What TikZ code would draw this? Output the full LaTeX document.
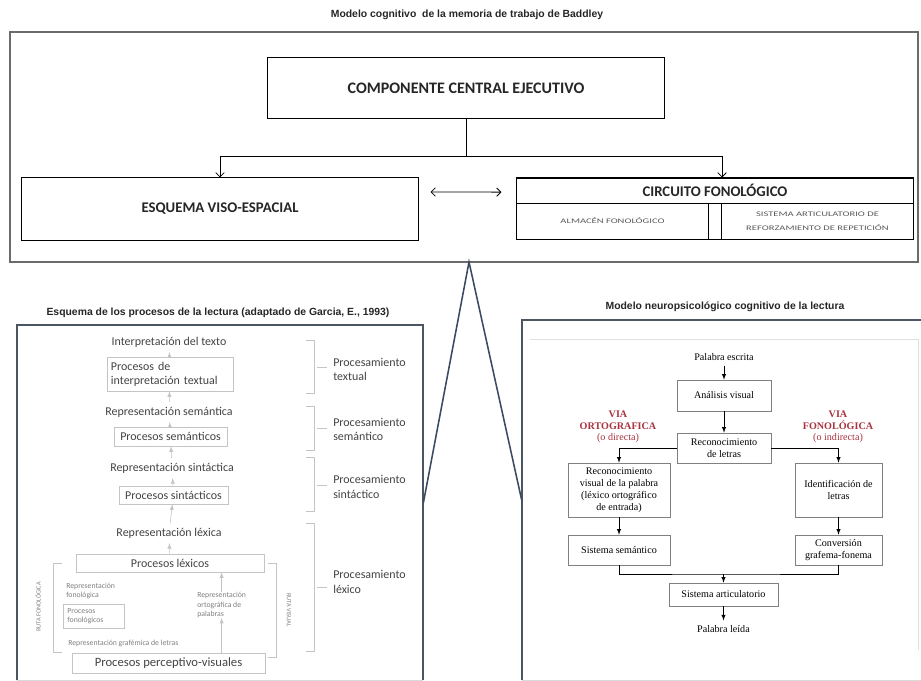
\documentclass[tikz,border=0pt]{standalone}
\usepackage{fontspec}
\setmainfont{Carlito}
\newfontfamily\arialf{Liberation Sans}
\newfontfamily\timesf{Liberation Serif}
\usetikzlibrary{arrows,arrows.meta}
\definecolor{framegray}{HTML}{6B6B6B}
\definecolor{panelblue}{HTML}{4A5662}
\definecolor{vlineblue}{HTML}{3B4A63}
\definecolor{boxgray}{HTML}{C4C4C4}
\definecolor{textgray}{HTML}{444444}
\definecolor{capsgray}{HTML}{5A5A5A}
\definecolor{viared}{HTML}{A8323E}
\newcommand{\widecaps}[1]{\scalebox{1.5}[1]{#1}}
\tikzstyle{box}=[draw=black,line width=0.7pt,inner sep=0pt,text=black!85]
\tikzstyle{lbox}=[draw=boxgray,thin,inner sep=2pt,text=textgray,font=\fontsize{8.5}{10}\selectfont]
\tikzstyle{rbox}=[draw=gray,thin,inner sep=1pt,align=center,font=\timesf\fontsize{7.2}{8.6}\selectfont]
\tikzstyle{arr}=[-{Straight Barb[length=3pt,width=6pt]},draw=black,line width=0.6pt]
\tikzstyle{dbl}=[{Straight Barb[length=3pt,width=6pt]}-{Straight Barb[length=3pt,width=6pt]},draw=black,line width=0.6pt]
\tikzstyle{larr}=[->,>=latex,draw=boxgray,thin]
\tikzstyle{rarr}=[->,>=latex,draw=black,thin]
\tikzstyle{brk}=[draw=boxgray,thin]
\tikzstyle{panel}=[draw=panelblue,line width=1.6pt]
\tikzstyle{vline}=[draw=vlineblue,line width=1.1pt]
\tikzstyle{ttl}=[text=black!85,font=\arialf\bfseries\fontsize{7.4}{9}\selectfont]
\tikzstyle{ltxt}=[text=textgray,font=\fontsize{8.5}{10}\selectfont]
\tikzstyle{stxt}=[text=gray,font=\fontsize{5.5}{6.6}\selectfont,align=left,inner sep=0pt]
\tikzstyle{ptxt}=[text=textgray,font=\fontsize{8.5}{10.5}\selectfont,align=left,anchor=west,inner sep=0pt]
\tikzstyle{rtxt}=[font=\timesf\fontsize{7.2}{8.6}\selectfont]
\tikzstyle{via}=[text=viared,align=center,font=\timesf\fontsize{7.2}{8.2}\selectfont]
\begin{document}
\begin{tikzpicture}[x=0.025cm,y=-0.025cm]
\path[use as bounding box,fill=white] (0,0) rectangle (921,681);
\begin{scope}
  %Nodes
  \node[ttl] (t1) at (467,15) {Modelo cognitivo\ \ de la memoria de trabajo de Baddley};
  \node[draw=framegray,line width=1.2pt,minimum width=22.7cm,minimum height=5.75cm] (wm) at (464,147) {};
  \node[box,minimum width=9.9cm,minimum height=1.5cm,font=\bfseries\fontsize{11.4}{13}\selectfont] (cce) at (466,88) {COMPONENTE CENTRAL EJECUTIVO};
  \node[box,minimum width=9.9cm,minimum height=1.55cm,font=\bfseries\fontsize{10.5}{12}\selectfont] (esq) at (220,209) {ESQUEMA VISO-ESPACIAL};
  \node[box,minimum width=9.9cm,minimum height=1.525cm] (circ) at (715,208.5) {};
  \node[box,minimum width=9.9cm,minimum height=0.625cm,font=\bfseries\fontsize{10.5}{12}\selectfont] (circt) at (715,190.5) {CIRCUITO FONOLÓGICO};
  \node[box,minimum width=4.775cm,minimum height=0.9cm,text=capsgray,font=\fontsize{5}{10}\selectfont] (alm) at (612.5,221) {\widecaps{ALMACÉN FONOLÓGICO}};
  \node[box,minimum width=4.775cm,minimum height=0.9cm,align=center,text=capsgray,font=\fontsize{5}{10}\selectfont] (sis) at (817.5,221) {\widecaps{SISTEMA ARTICULATORIO DE}\\\widecaps{REFORZAMIENTO DE REPETICIÓN}};
  \coordinate (split) at (cce.south |- 0,156);
  %Lines
  \draw[box] (cce.south) -- (split);
  \draw[arr] (split) -| (esq.north);
  \draw[arr] (split) -| ([xshift=0.175cm]circ.north);
  \draw[dbl] ([shift={(0.3cm,0.425cm)}]esq.east) -- ([shift={(-0.375cm,0.41cm)}]circ.west);
\end{scope}
\begin{scope}
  %Panels
  \node[minimum width=10.15cm,minimum height=8.875cm] (lp) at (220,502.5) {};
  \node[minimum width=10.075cm,minimum height=9cm] (rp) at (723.5,500) {};
  \draw[panel] (lp.south west) -- (lp.north west) -- (lp.north east) -- (lp.south east);
  \draw[draw=gray!30,thin] (lp.south west) -- (lp.south east);
  \draw[panel] (rp.south west) -- (rp.north west) -- (rp.north east);
  \draw[draw=gray!30,thin] (rp.south west) -- (rp.south east);
  \draw[draw=gray!25,thin] (530,339) -- (918,339) -- (918,650);
  \node[ttl] (t2) at (218,313) {Esquema de los procesos de la lectura (adaptado de Garcia, E., 1993)};
  \node[ttl] (t3) at (725,307) {Modelo neuropsicológico cognitivo de la lectura};
  \coordinate (apex) at (469,262);
  \draw[vline] (lp.east |- 0,503) -- (apex) -- (rp.west |- 0,500);
\end{scope}
\begin{scope}
  %Nodes
  \node[ltxt] (it) at (169,342) {Interpretación del texto};
  \node[lbox,minimum width=3.15cm,minimum height=0.85cm,text width=2.95cm,align=left] (pit) at (170,374) {Procesos de\\interpretación textual};
  \node[ltxt] (rsem) at (169,412) {Representación semántica};
  \node[lbox,minimum width=2.825cm,minimum height=0.475cm] (psem) at (170.5,436.5) {Procesos semánticos};
  \node[ltxt] (rsin) at (172,468) {Representación sintáctica};
  \node[lbox,minimum width=2.725cm,minimum height=0.45cm] (psin) at (173.5,495) {Procesos sintácticos};
  \node[ltxt] (rlex) at (169,533) {Representación léxica};
  \node[lbox,minimum width=4.7cm,minimum height=0.45cm] (plex) at (170,563) {Procesos léxicos};
  \node[stxt,anchor=west] (rfon) at (66,591) {Representación\\fonológica};
  \node[lbox,minimum width=1.525cm,minimum height=0.6cm,text width=1.3cm,align=left,text=gray,font=\fontsize{5.5}{6.6}\selectfont] (pfon) at (93.5,616) {Procesos\\fonológicos};
  \node[stxt,anchor=west] (rgraf) at (68,643) {Representación grafémica de letras};
  \node[stxt,anchor=west] (rort) at (197,605) {Representación\\ortográfica de\\palabras};
  \node[lbox,minimum width=4.825cm,minimum height=0.5cm,font=\fontsize{9}{11}\selectfont] (ppv) at (168.5,663) {Procesos perceptivo-visuales};
  \node[stxt,rotate=90,font=\fontsize{4.5}{5}\selectfont] (rfl) at (38,607) {RUTA FONOLÓGICA};
  \node[stxt,rotate=-90,font=\fontsize{4.5}{5}\selectfont] (rvl) at (289,610) {RUTA VISUAL};
  \node[ptxt] (ptex) at (333,369.5) {Procesamiento\\textual};
  \node[ptxt] (psemt) at (333,429.5) {Procesamiento\\semántico};
  \node[ptxt] (psint) at (333,487) {Procesamiento\\sintáctico};
  \node[ptxt] (plext) at (333,582) {Procesamiento\\léxico};
  %Lines
  \draw[larr] (pit) -- (it);
  \draw[larr] (rsem) -- (pit);
  \draw[larr] (psem) -- (rsem);
  \draw[larr] (rsin) -- (psem);
  \draw[larr] (psin) -- (rsin);
  \draw[larr] (rlex) -- (psin);
  \draw[larr] (plex) -- (rlex);
  \draw[larr] (rort.south |- ppv.north) -- (rort.south);
  \draw[larr] (rort.north) -- (rort.north |- plex.south);
  %Brackets
  \draw[brk] (306,340) -- (314,340) -- (314,393) -- (306,393);
  \draw[brk] (317,367) -- (327,367);
  \draw[brk] (306,406) -- (314,406) -- (314,450) -- (306,450);
  \draw[brk] (317,428) -- (327,428);
  \draw[brk] (306,457) -- (314,457) -- (314,511) -- (306,511);
  \draw[brk] (317,485) -- (327,485);
  \draw[brk] (306,523) -- (314,523) -- (314,651) -- (306,651);
  \draw[brk] (317,587) -- (327,587);
  \draw[brk] (62,563) -- (53,563) -- (53,652) -- (62,652);
  \draw[brk] (268,563) -- (276,563) -- (276,657) -- (268,657);
\end{scope}
\begin{scope}
  %Nodes
  \node[rtxt] (pe) at (724,357) {Palabra escrita};
  \node[rbox,minimum width=2.35cm,minimum height=0.775cm] (av) at (724,395.5) {Análisis visual};
  \node[rbox,minimum width=2.35cm,minimum height=0.75cm] (rl) at (724,448) {Reconocimiento\\de letras};
  \node[via] (vo) at (618,427) {\textbf{VIA}\\\textbf{ORTOGRAFICA}\\(o directa)};
  \node[via] (vf) at (838,427) {\textbf{VIA}\\\textbf{FONOLÓGICA}\\(o indirecta)};
  \node[rbox,minimum width=2.55cm,minimum height=1.35cm] (rv) at (619,490) {Reconocimiento\\visual de la palabra\\(léxico ortográfico\\de entrada)};
  \node[rbox,minimum width=2.55cm,minimum height=0.75cm] (ss) at (619,550) {Sistema semántico};
  \node[rbox,minimum width=2.175cm,minimum height=1.35cm] (il) at (838.5,490) {Identificación de\\letras};
  \node[rbox,minimum width=2.175cm,minimum height=0.75cm] (cg) at (838.5,550) {Conversión\\grafema-fonema};
  \node[rbox,minimum width=2.725cm,minimum height=0.575cm] (sa) at (723.5,594.5) {Sistema articulatorio};
  \node[rtxt] (pl) at (723.5,629) {Palabra leída};
  \coordinate (join) at (723.5,574);
  %Lines
  \draw[rarr] (pe) -- (av);
  \draw[rarr] (av) -- (rl);
  \draw[rarr] (rl.west) -| (rv.north);
  \draw[rarr] (rl.east) -| (il.north);
  \draw[rarr] (rv) -- (ss);
  \draw[rarr] (il) -- (cg);
  \draw[thin] (ss.south) |- (join) -| (cg.south);
  \draw[rarr] (join) -- (sa.north);
  \draw[rarr] (sa) -- (pl);
\end{scope}
\end{tikzpicture}
\end{document}
